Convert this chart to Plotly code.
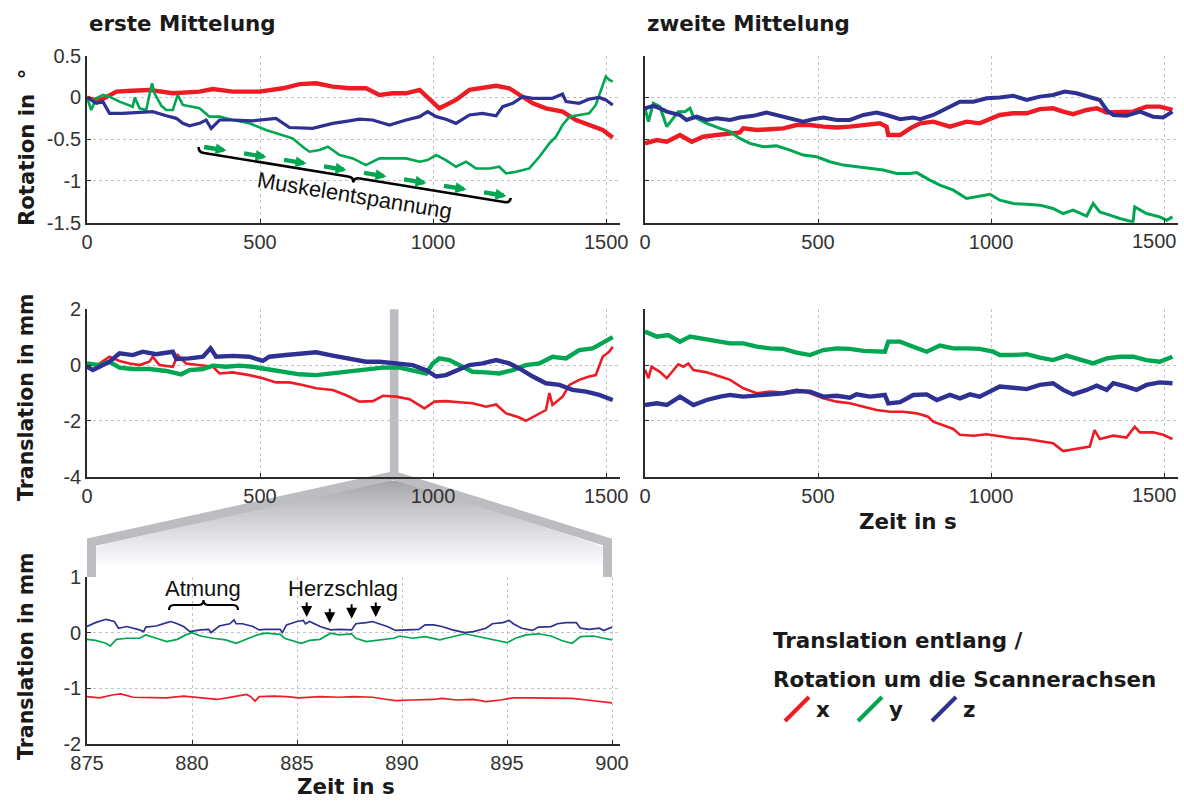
import numpy as np
import plotly.graph_objects as go

W, H = 1184, 801
RED, GREEN, BLUE = "#ed1c24", "#00a651", "#2e3192"

# ---------------- data: erste Mittelung, Rotation (deg) ----------------
t_r1_x = [0, 20, 45, 85, 130, 180, 248, 325, 363, 421, 498, 566, 614, 662, 710, 758, 806, 845, 883, 922,
          961, 989, 1018, 1037, 1066, 1105, 1143, 1182, 1220, 1249, 1288, 1326, 1374, 1413, 1451, 1490, 1519]
r1_x = [0.0, -0.03, -0.02, 0.07, 0.08, 0.09, 0.05, 0.07, 0.10, 0.07, 0.07, 0.11, 0.16, 0.17, 0.13, 0.11, 0.11, 0.03, 0.05, 0.05,
        0.09, -0.01, -0.13, -0.09, -0.03, 0.09, 0.11, 0.14, 0.11, 0.03, -0.07, -0.13, -0.17, -0.27, -0.33, -0.39, -0.48]

t_r1_y = [0, 12, 27, 46, 65, 94, 132, 138, 152, 171, 188, 195, 215, 229, 248, 262, 277, 325, 354, 383,
          421, 469, 517, 566, 594, 623, 643, 672, 696, 730, 768, 806, 845, 883, 922, 961, 984, 1009, 1037, 1066,
          1095, 1124, 1163, 1191, 1211, 1240, 1278, 1307, 1336, 1355, 1374, 1394, 1422, 1451, 1470, 1485, 1499, 1509, 1519]
r1_y = [0.0, -0.15, -0.01, 0.03, 0.01, -0.05, -0.11, 0.0, -0.13, -0.15, 0.17, 0.05, -0.10, -0.15, -0.15, 0.03, -0.09, -0.13, -0.23, -0.23,
        -0.27, -0.31, -0.39, -0.45, -0.49, -0.59, -0.65, -0.63, -0.59, -0.69, -0.73, -0.81, -0.73, -0.73, -0.73, -0.77, -0.75, -0.69, -0.75, -0.83,
        -0.77, -0.85, -0.85, -0.83, -0.91, -0.89, -0.85, -0.71, -0.55, -0.47, -0.33, -0.23, -0.21, -0.19, -0.09, 0.09, 0.25, 0.21, 0.19]

t_r1_z = [0, 27, 46, 65, 103, 152, 190, 229, 258, 277, 296, 325, 344, 359, 383, 421, 479, 546, 585, 652,
          710, 758, 787, 825, 874, 922, 961, 984, 1009, 1037, 1066, 1105, 1143, 1182, 1201, 1230, 1259, 1288, 1345, 1374,
          1384, 1422, 1451, 1480, 1499, 1519]
r1_z = [0.0, -0.07, -0.05, -0.19, -0.19, -0.18, -0.17, -0.22, -0.25, -0.31, -0.34, -0.31, -0.27, -0.37, -0.27, -0.27, -0.28, -0.25, -0.36, -0.37,
        -0.31, -0.28, -0.26, -0.27, -0.33, -0.27, -0.23, -0.17, -0.23, -0.26, -0.31, -0.21, -0.19, -0.22, -0.11, -0.07, 0.01, -0.01, -0.01, 0.04,
        -0.05, -0.07, -0.02, 0.0, -0.03, -0.09]

# ---------------- data: zweite Mittelung, Rotation (deg) ----------------
t_r2_x = [0, 34, 63, 101, 135, 168, 207, 246, 274, 284, 323, 361, 400, 438, 477, 515, 554, 592, 631, 679,
          698, 703, 737, 766, 795, 833, 881, 929, 967, 1006, 1025, 1064, 1103, 1141, 1179, 1208, 1237, 1276, 1305, 1334,
          1372, 1410, 1449, 1487, 1507, 1524]
r2_x = [-0.55, -0.51, -0.53, -0.45, -0.53, -0.47, -0.45, -0.43, -0.42, -0.37, -0.39, -0.38, -0.37, -0.33, -0.33, -0.35, -0.36, -0.35, -0.33, -0.31,
        -0.35, -0.45, -0.45, -0.37, -0.31, -0.29, -0.35, -0.29, -0.31, -0.25, -0.21, -0.19, -0.19, -0.14, -0.13, -0.17, -0.20, -0.15, -0.13, -0.18,
        -0.17, -0.17, -0.11, -0.11, -0.13, -0.15]

t_r2_y = [0, 10, 24, 43, 63, 77, 96, 115, 130, 140, 178, 217, 246, 274, 303, 342, 380, 419, 457, 496,
          534, 573, 611, 650, 688, 727, 765, 785, 805, 823, 852, 891, 929, 958, 997, 1025, 1064, 1103, 1141, 1179,
          1208, 1237, 1276, 1295, 1314, 1343, 1372, 1410, 1415, 1449, 1487, 1507, 1524]
r2_y = [-0.13, -0.29, -0.07, -0.11, -0.35, -0.27, -0.17, -0.17, -0.13, -0.23, -0.31, -0.37, -0.41, -0.49, -0.55, -0.59, -0.58, -0.63, -0.69, -0.71,
        -0.77, -0.81, -0.83, -0.85, -0.87, -0.91, -0.91, -0.90, -0.95, -0.99, -1.05, -1.11, -1.21, -1.19, -1.16, -1.23, -1.27, -1.28, -1.29, -1.33,
        -1.39, -1.35, -1.42, -1.27, -1.37, -1.41, -1.45, -1.49, -1.31, -1.39, -1.43, -1.47, -1.43]

t_r2_z = [0, 24, 43, 63, 101, 120, 149, 178, 207, 246, 274, 313, 351, 390, 428, 457, 486, 515, 554, 592,
          631, 669, 698, 737, 775, 795, 833, 871, 910, 949, 987, 1025, 1064, 1103, 1141, 1179, 1213, 1247, 1276, 1314,
          1334, 1353, 1391, 1430, 1468, 1497, 1524]
r2_z = [-0.13, -0.10, -0.13, -0.17, -0.21, -0.27, -0.23, -0.27, -0.25, -0.27, -0.24, -0.22, -0.18, -0.22, -0.27, -0.29, -0.26, -0.24, -0.27, -0.27,
        -0.21, -0.18, -0.21, -0.26, -0.24, -0.26, -0.21, -0.13, -0.05, -0.05, -0.01, 0.0, 0.02, -0.03, 0.01, 0.03, 0.07, 0.05, 0.01, -0.03,
        -0.15, -0.21, -0.22, -0.17, -0.23, -0.24, -0.17]

# ---------------- data: erste Mittelung, Translation (mm) ----------------
t_t1_x = [0, 17, 36, 65, 94, 123, 152, 180, 190, 209, 248, 262, 286, 325, 364, 383, 421, 469, 508, 546,
          585, 623, 662, 710, 749, 787, 826, 855, 893, 932, 975, 1004, 1037, 1076, 1114, 1153, 1182, 1211, 1249, 1268,
          1297, 1326, 1336, 1345, 1374, 1394, 1422, 1451, 1470, 1490, 1509, 1519]
t1_x = [0.0, -0.18, 0.06, 0.30, 0.15, 0.06, 0.0, 0.12, 0.30, 0.0, -0.06, 0.36, 0.06, 0.0, -0.06, -0.30, -0.26, -0.36, -0.47, -0.62,
        -0.62, -0.71, -0.83, -0.89, -1.08, -1.31, -1.29, -1.10, -1.13, -1.22, -1.55, -1.31, -1.29, -1.33, -1.37, -1.49, -1.41, -1.73, -1.88, -2.0,
        -1.79, -1.61, -1.0, -1.43, -1.13, -0.71, -0.53, -0.41, -0.36, 0.30, 0.48, 0.66]

t_t1_y = [0, 36, 65, 94, 132, 180, 229, 272, 296, 335, 364, 402, 440, 479, 517, 566, 614, 662, 710, 758,
          806, 855, 903, 941, 980, 999, 1018, 1047, 1076, 1114, 1153, 1191, 1230, 1268, 1307, 1345, 1384, 1422, 1461, 1490, 1519]
t1_y = [0.06, 0.0, 0.12, -0.09, -0.14, -0.14, -0.21, -0.33, -0.18, -0.14, -0.02, -0.06, -0.02, -0.06, -0.14, -0.24, -0.33, -0.36, -0.30, -0.24,
        -0.18, -0.09, -0.09, -0.18, -0.30, 0.06, 0.24, 0.18, 0.0, -0.24, -0.26, -0.30, -0.18, 0.0, 0.06, 0.30, 0.24, 0.54, 0.60, 0.80, 1.0]

t_t1_z = [0, 17, 36, 65, 94, 132, 161, 200, 248, 258, 296, 335, 357, 373, 421, 469, 508, 527, 575, 614,
          662, 710, 758, 806, 845, 893, 941, 980, 1009, 1037, 1066, 1105, 1143, 1182, 1220, 1249, 1288, 1326, 1365, 1403,
          1442, 1480, 1519]
t1_z = [-0.06, -0.18, -0.06, 0.12, 0.42, 0.36, 0.48, 0.39, 0.48, 0.22, 0.24, 0.30, 0.60, 0.30, 0.33, 0.30, 0.15, 0.30, 0.36, 0.42,
        0.46, 0.34, 0.24, 0.12, 0.12, 0.06, 0.0, -0.18, -0.41, -0.36, -0.21, 0.0, 0.06, 0.18, 0.06, -0.12, -0.41, -0.65, -0.71, -0.89,
        -0.95, -1.07, -1.25]

# ---------------- data: zweite Mittelung, Translation (mm) ----------------
t_t2_x = [0, 10, 19, 43, 63, 77, 96, 111, 125, 140, 178, 217, 246, 284, 323, 361, 400, 438, 477, 515,
          554, 592, 631, 669, 708, 746, 785, 818, 833, 862, 891, 910, 949, 987, 1025, 1064, 1103, 1141, 1179, 1208,
          1247, 1285, 1299, 1314, 1353, 1391, 1415, 1430, 1468, 1497, 1524]
t2_x = [-0.17, -0.47, -0.06, -0.24, -0.47, -0.24, 0.03, -0.06, 0.06, -0.18, -0.26, -0.41, -0.53, -0.83, -1.01, -0.95, -0.98, -0.89, -1.01, -1.19,
        -1.31, -1.37, -1.49, -1.61, -1.67, -1.67, -1.73, -1.85, -2.03, -2.15, -2.29, -2.50, -2.53, -2.48, -2.56, -2.62, -2.65, -2.72, -2.80, -3.08,
        -3.01, -2.92, -2.33, -2.65, -2.53, -2.60, -2.21, -2.41, -2.41, -2.50, -2.65]

t_t2_y = [0, 34, 67, 101, 130, 168, 207, 246, 284, 323, 361, 400, 438, 477, 515, 554, 592, 631, 669, 693,
          703, 737, 775, 814, 852, 891, 929, 967, 1006, 1025, 1064, 1103, 1141, 1179, 1218, 1256, 1295, 1334, 1372, 1410,
          1449, 1487, 1524]
t2_y = [1.20, 1.02, 1.08, 0.84, 1.02, 0.96, 0.86, 0.78, 0.78, 0.66, 0.60, 0.58, 0.45, 0.36, 0.54, 0.60, 0.58, 0.51, 0.51, 0.48,
        0.84, 0.84, 0.66, 0.48, 0.70, 0.60, 0.60, 0.58, 0.48, 0.36, 0.36, 0.39, 0.27, 0.18, 0.34, 0.22, 0.06, 0.24, 0.30, 0.30,
        0.18, 0.12, 0.30]

t_t2_z = [0, 34, 63, 101, 140, 178, 217, 246, 284, 323, 361, 400, 438, 477, 515, 554, 592, 611, 650, 693,
          703, 737, 775, 814, 843, 881, 910, 939, 967, 996, 1025, 1064, 1103, 1141, 1179, 1208, 1237, 1276, 1305, 1334,
          1353, 1391, 1420, 1449, 1487, 1524]
t2_z = [-1.43, -1.37, -1.43, -1.13, -1.43, -1.25, -1.13, -1.07, -1.13, -1.10, -1.05, -1.01, -0.93, -0.95, -1.13, -1.10, -1.17, -1.05, -1.13, -1.07,
        -1.37, -1.33, -1.07, -1.05, -1.25, -1.07, -1.19, -1.05, -1.13, -0.95, -0.77, -0.81, -0.86, -0.71, -0.65, -0.89, -1.05, -0.89, -0.74, -0.89,
        -0.65, -0.77, -0.89, -0.71, -0.62, -0.65]

# ---------------- data: Ausschnitt 875-900 s, Translation (mm) ----------------
t_z_x = [875, 875.6, 876.2, 876.6, 877.2, 878.0, 878.8, 879.6, 880.4, 881.2, 882.0, 882.6, 882.8, 883.0, 883.2, 883.9, 884.5, 885.1, 886.1, 887.0,
         887.7, 888.6, 889.3, 889.7, 890.5, 891.5, 891.9, 892.6, 893.4, 894.0, 894.7, 895.3, 896.2, 897.1, 898.1, 898.8, 899.4, 900.0]
z_x = [-1.15, -1.17, -1.12, -1.10, -1.16, -1.17, -1.17, -1.14, -1.17, -1.20, -1.15, -1.11, -1.15, -1.23, -1.15, -1.14, -1.15, -1.17, -1.15, -1.16,
       -1.15, -1.16, -1.20, -1.22, -1.21, -1.20, -1.18, -1.21, -1.20, -1.24, -1.21, -1.17, -1.17, -1.18, -1.18, -1.21, -1.24, -1.26]

t_z_y = [875, 875.4, 875.9, 876.1, 876.4, 876.9, 877.5, 877.8, 878.3, 878.8, 879.3, 879.7, 880.0, 880.4, 881.0, 881.6, 882.1, 882.6, 883.1, 883.5,
         884.2, 884.4, 884.8, 885.2, 885.6, 886.1, 886.6, 887.0, 887.6, 887.8, 888.3, 888.9, 889.6, 889.9, 890.5, 891.1, 891.8, 892.1, 892.8, 893.0,
         893.5, 894.0, 894.5, 895.0, 895.4, 895.9, 896.5, 897.1, 897.6, 898.1, 898.5, 899.1, 899.6, 900.0]
z_y = [-0.12, -0.14, -0.19, -0.24, -0.12, -0.10, -0.10, -0.04, -0.10, -0.16, -0.12, -0.04, 0.0, -0.06, -0.10, -0.13, -0.19, -0.12, -0.04, -0.01,
       -0.03, -0.10, -0.14, -0.19, -0.14, -0.12, -0.01, -0.04, -0.02, -0.10, -0.16, -0.13, -0.10, -0.06, -0.10, -0.07, -0.13, -0.10, -0.04, -0.02,
       -0.06, -0.10, -0.14, -0.18, -0.10, -0.04, -0.02, -0.06, -0.14, -0.19, -0.07, -0.06, -0.10, -0.13]

t_z_z = [875, 875.4, 875.9, 876.3, 876.5, 876.9, 877.5, 877.7, 877.8, 878.3, 878.8, 879.0, 879.3, 879.6, 879.9, 880.4, 880.8, 880.9, 881.3, 881.8,
         882.0, 882.1, 882.4, 882.9, 883.2, 883.5, 884.2, 884.3, 884.5, 885.0, 885.3, 885.4, 885.6, 886.1, 886.6, 887.0, 887.6, 887.8, 888.3, 888.6,
         888.9, 889.3, 889.7, 890.2, 890.8, 891.1, 891.5, 891.9, 892.4, 893.0, 893.4, 894.0, 894.3, 894.8, 895.1, 895.3, 895.7, 896.2, 896.5, 897.1,
         897.4, 897.8, 898.3, 898.5, 898.9, 899.4, 899.6, 900.0]
z_z = [0.11, 0.18, 0.24, 0.20, 0.08, 0.11, 0.05, 0.02, 0.10, 0.12, 0.18, 0.20, 0.16, 0.11, 0.02, 0.05, 0.06, 0.0, 0.12, 0.16,
       0.23, 0.16, 0.16, 0.11, 0.05, 0.06, 0.06, 0.0, 0.14, 0.20, 0.22, 0.16, 0.20, 0.11, 0.05, 0.06, 0.05, 0.16, 0.18, 0.20,
       0.16, 0.11, 0.04, 0.05, 0.06, 0.14, 0.14, 0.11, 0.05, 0.0, 0.02, 0.08, 0.16, 0.18, 0.22, 0.16, 0.08, 0.04, 0.10, 0.11,
       0.16, 0.18, 0.18, 0.08, 0.06, 0.08, 0.04, 0.10]

# tick labels
rot_ticks = [-1.5, -1, -0.5, 0, 0.5]
rot_ticktext = ["-1.5", "-1", "-0.5", "0", "0.5"]
tr_ticks = [-4, -2, 0, 2]
tr_ticktext = ["-4", "-2", "0", "2"]
zoom_yticks = [-2, -1, 0, 1]
zoom_yticktext = ["-2", "-1", "0", "1"]
time_ticks = [0, 500, 1000, 1500]
zoom_xticks = [875, 880, 885, 890, 895, 900]
zoom_window = [875, 900]

# ---------------- layout geometry (pixels) ----------------
LX = (87, 620)
RX = (645, 1178)
ROW1 = (55.7, 222.7)
ROW2 = (309.3, 476.7)
ROW3 = (577, 744)
T_RANGE = [0, 1540]
Z_RANGE = [875, 900.38]


def P(px, py):
    return px / W, 1 - py / H


def xdom(a):
    return [a[0] / W, a[1] / W]


def ydom(r):
    return [1 - r[1] / H, 1 - r[0] / H]


AX = "#2b2b2b"
GRID = "#c4c4c4"
TICKFONT = dict(family="Liberation Sans, Arial, sans-serif", size=20, color="#333333")
BOLD = dict(family="DejaVu Sans", size=21.4, color="#1a1a1a", weight="bold")
AXTITLE = dict(family="DejaVu Sans", size=20.5, color="#1a1a1a", weight="bold")
TEXTFONT = dict(family="Liberation Sans, Arial, sans-serif", size=22, color="#111111")


def axis(dom, rng, tickvals, ticktext, anchor, showlabels=True):
    return dict(domain=dom, range=rng, tickvals=tickvals, ticktext=ticktext, anchor=anchor,
                showline=True, linecolor=AX, linewidth=1.6, ticks="inside", ticklen=4,
                tickwidth=1.2, tickcolor=AX, showgrid=True, gridcolor=GRID, griddash="dot",
                gridwidth=1, zeroline=False, tickfont=TICKFONT, showticklabels=showlabels,
                fixedrange=True, automargin=False, ticklabeloverflow="allow")


fig = go.Figure()


def add(x, y, color, xa, ya, width):
    fig.add_trace(go.Scatter(x=x, y=y, mode="lines", line=dict(color=color, width=width),
                             xaxis=xa, yaxis=ya, showlegend=False, hoverinfo="skip"))


add(t_r1_x, r1_x, RED, "x", "y", 4.4)
add(t_r1_y, r1_y, GREEN, "x", "y", 2.6)
add(t_r1_z, r1_z, BLUE, "x", "y", 3.2)
add(t_r2_x, r2_x, RED, "x2", "y2", 4.4)
add(t_r2_y, r2_y, GREEN, "x2", "y2", 3.0)
add(t_r2_z, r2_z, BLUE, "x2", "y2", 4.0)
add(t_t1_x, t1_x, RED, "x3", "y3", 2.6)
add(t_t1_y, t1_y, GREEN, "x3", "y3", 4.4)
add(t_t1_z, t1_z, BLUE, "x3", "y3", 4.4)
add(t_t2_x, t2_x, RED, "x4", "y4", 2.6)
add(t_t2_y, t2_y, GREEN, "x4", "y4", 4.4)
add(t_t2_z, t2_z, BLUE, "x4", "y4", 4.4)
add(t_z_x, z_x, RED, "x5", "y5", 1.7)
add(t_z_y, z_y, GREEN, "x5", "y5", 1.7)
add(t_z_z, z_z, BLUE, "x5", "y5", 1.7)

tt = [str(v) for v in time_ticks]
tt_right = tt[:-1] + [""]          # last label of the right column is placed as an annotation (kept inside)
zt = [str(v) for v in zoom_xticks]
layout = dict(
    width=W, height=H, margin=dict(l=0, r=0, t=0, b=0, pad=0), autosize=False,
    paper_bgcolor="white", plot_bgcolor="rgba(0,0,0,0)", showlegend=False,
    xaxis=axis(xdom(LX), T_RANGE, time_ticks, tt, "y"),
    yaxis=axis(ydom(ROW1), [-1.5, 0.5], rot_ticks, rot_ticktext, "x"),
    xaxis2=axis(xdom(RX), T_RANGE, time_ticks, tt_right, "y2"),
    yaxis2=axis(ydom(ROW1), [-1.5, 0.5], rot_ticks, rot_ticktext, "x2", showlabels=False),
    xaxis3=axis(xdom(LX), T_RANGE, time_ticks, tt, "y3"),
    yaxis3=axis(ydom(ROW2), [-4, 2], tr_ticks, tr_ticktext, "x3"),
    xaxis4=axis(xdom(RX), T_RANGE, time_ticks, tt_right, "y4"),
    yaxis4=axis(ydom(ROW2), [-4, 2], tr_ticks, tr_ticktext, "x4", showlabels=False),
    xaxis5=axis(xdom(LX), Z_RANGE, zoom_xticks, zt, "y5"),
    yaxis5=axis(ydom(ROW3), [-2, 1], zoom_yticks, zoom_yticktext, "x5"),
)
fig.update_layout(**layout)

shapes = []
annotations = []

# last tick label of the right column, shifted left so it stays inside the picture
for ya_name, row in (("y2", ROW1), ("y4", ROW2)):
    annotations.append(dict(xref="x2" if ya_name == "y2" else "x4", yref="paper",
                            x=time_ticks[-1], y=1 - (row[1] + 18) / H, xshift=-10,
                            text=tt[-1], showarrow=False, font=TICKFONT,
                            xanchor="center", yanchor="middle"))

# ---- gray zoom marker: bar in the translation panel + connector to zoom panel ----
BAND = "#bcbdc0"
shapes.append(dict(type="rect", xref="x3", yref="y3 domain", x0=zoom_window[0], x1=zoom_window[1],
                   y0=-0.02, y1=1, fillcolor=BAND, line=dict(width=0), layer="below"))
px_a = LX[0] + (zoom_window[0] - T_RANGE[0]) / (T_RANGE[1] - T_RANGE[0]) * (LX[1] - LX[0])
px_b = LX[0] + (zoom_window[1] - T_RANGE[0]) / (T_RANGE[1] - T_RANGE[0]) * (LX[1] - LX[0])
pz_a = LX[0] + (zoom_window[0] - Z_RANGE[0]) / (Z_RANGE[1] - Z_RANGE[0]) * (LX[1] - LX[0])
pz_b = LX[0] + (zoom_window[1] - Z_RANGE[0]) / (Z_RANGE[1] - Z_RANGE[0]) * (LX[1] - LX[0])
top_c = (px_a + px_b) / 2
y_top, y_knee, y_bot = ROW2[1] + 2, 542, ROW3[0]
xl_in, xr_in = pz_a + 9, pz_b - 9

# gradient strips
g0, g1, step = y_top + 2, 566, 3.0
y = g0
while y < g1:
    ya, yb = y, min(y + step + 0.7, g1)

    def xl(yy):
        return top_c + (xl_in - top_c) * min(1, (yy - y_top) / (y_knee + 4 - y_top))

    def xr(yy):
        return top_c + (xr_in - top_c) * min(1, (yy - y_top) / (y_knee + 4 - y_top))

    f = (y - g0) / (g1 - g0)
    lev = int(round(165 + (255 - 165) * f ** 0.85))
    col = f"rgb({lev},{lev},{min(255, lev + 3)})"
    pts = [P(xl(ya), ya), P(xr(ya), ya), P(xr(yb), yb), P(xl(yb), yb)]
    path = "M " + " L ".join(f"{a:.5f},{b:.5f}" for a, b in pts) + " Z"
    shapes.append(dict(type="path", xref="paper", yref="paper", path=path, fillcolor=col,
                       line=dict(width=0), layer="below"))
    y += step

for xe in (pz_a + 4.5, pz_b - 4.5):
    pts = [P(top_c, y_top - 3), P(xe, y_knee), P(xe, y_bot)]
    path = "M " + " L ".join(f"{a:.5f},{b:.5f}" for a, b in pts)
    shapes.append(dict(type="path", xref="paper", yref="paper", path=path,
                       line=dict(color=BAND, width=9), layer="below"))


# ---- curly braces ----
def brace(S, E, sign, h=5.0, r=6.0):
    S = np.array(S, float)
    E = np.array(E, float)
    d = E - S
    L = float(np.hypot(*d))
    u = d / L
    n = np.array([-u[1], u[0]]) * sign

    def pt(a, b):
        p = S + a * u + b * n
        x, y = P(*p)
        return f"{x:.5f},{y:.5f}"

    return (f"M {pt(0, -h)} Q {pt(0, 0)} {pt(r, 0)} L {pt(L / 2 - r, 0)} Q {pt(L / 2, 0)} {pt(L / 2, h)} "
            f"Q {pt(L / 2, 0)} {pt(L / 2 + r, 0)} L {pt(L - r, 0)} Q {pt(L, 0)} {pt(L, -h)}")


shapes.append(dict(type="path", xref="paper", yref="paper", path=brace((198, 152), (510, 203), 1),
                   line=dict(color="black", width=2.6)))
shapes.append(dict(type="path", xref="paper", yref="paper", path=brace((169, 605), (238, 605), -1, h=5, r=5),
                   line=dict(color="black", width=2.2)))

# ---- green dashed arrow (Muskelentspannung) ----
M_T = (334, 1212)
M_V = (-0.59, -1.18)
for i in range(8):
    f0 = 40 * i / 304
    f1 = (40 * i + 24) / 304
    annotations.append(dict(xref="x", yref="y", axref="x", ayref="y",
                            x=M_T[0] + f1 * (M_T[1] - M_T[0]), y=M_V[0] + f1 * (M_V[1] - M_V[0]),
                            ax=M_T[0] + f0 * (M_T[1] - M_T[0]), ay=M_V[0] + f0 * (M_V[1] - M_V[0]),
                            showarrow=True, arrowhead=2, arrowsize=0.5, arrowwidth=4.4,
                            arrowcolor=GREEN, text=""))
tx, ty = P(354, 196)
annotations.append(dict(xref="paper", yref="paper", x=tx, y=ty, text="Muskelentspannung",
                        showarrow=False, textangle=9.3, font=TEXTFONT, xanchor="center", yanchor="middle"))

# ---- Atmung / Herzschlag ----
tx, ty = P(203, 588)
annotations.append(dict(xref="paper", yref="paper", x=tx, y=ty, text="Atmung", showarrow=False,
                        font=TEXTFONT, xanchor="center", yanchor="middle"))
tx, ty = P(343, 588)
annotations.append(dict(xref="paper", yref="paper", x=tx, y=ty, text="Herzschlag", showarrow=False,
                        font=TEXTFONT, xanchor="center", yanchor="middle"))
herz_t = [885.46, 886.56, 887.6, 888.75]
herz_v = [0.28, 0.17, 0.25, 0.28]
for a, b in zip(herz_t, herz_v):
    annotations.append(dict(xref="x5", yref="y5", x=a, y=b, ax=0, ay=-16, showarrow=True,
                            arrowhead=2, arrowsize=1.1, arrowwidth=2, arrowcolor="black", text=""))

# ---- titles ----
for txt, px, py in [("erste Mittelung", 87, 24), ("zweite Mittelung", 645, 24)]:
    x, y = P(px, py)
    annotations.append(dict(xref="paper", yref="paper", x=x, y=y, text=txt, showarrow=False,
                            font=BOLD, xanchor="left", yanchor="middle"))

for txt, px, py, fs in [("Rotation in  °", 26, 148, 21.2), ("Translation in mm", 26, 398, 20.5),
                        ("Translation in mm", 26, 657, 20.5)]:
    x, y = P(px, py)
    annotations.append(dict(xref="paper", yref="paper", x=x, y=y, text=txt, showarrow=False,
                            font=dict(AXTITLE, size=fs), textangle=-90, xanchor="center", yanchor="middle"))

for px, py in [(908, 521), (346, 786)]:
    x, y = P(px, py)
    annotations.append(dict(xref="paper", yref="paper", x=x, y=y, text="Zeit in s", showarrow=False,
                            font=BOLD, xanchor="center", yanchor="middle"))

# ---- legend ----
for txt, py in [("Translation entlang /", 640), ("Rotation um die Scannerachsen", 679)]:
    x, y = P(771, py)
    annotations.append(dict(xref="paper", yref="paper", x=x, y=y, text=txt, showarrow=False,
                            font=BOLD, xanchor="left", yanchor="middle"))
for col, lab, x0 in [(RED, "x", 785), (GREEN, "y", 858), (BLUE, "z", 932)]:
    a0, b0 = P(x0, 721)
    a1, b1 = P(x0 + 24, 697)
    shapes.append(dict(type="line", xref="paper", yref="paper", x0=a0, y0=b0, x1=a1, y1=b1,
                       line=dict(color=col, width=4)))
    x, y = P(x0 + 29, 709)
    annotations.append(dict(xref="paper", yref="paper", x=x, y=y, text=lab, showarrow=False,
                            font=BOLD, xanchor="left", yanchor="middle"))

fig.update_layout(shapes=shapes, annotations=annotations)
fig.write_html("out.html", config={"displayModeBar": False},
               post_script="document.body.style.margin='0px';document.body.style.padding='0px';")
